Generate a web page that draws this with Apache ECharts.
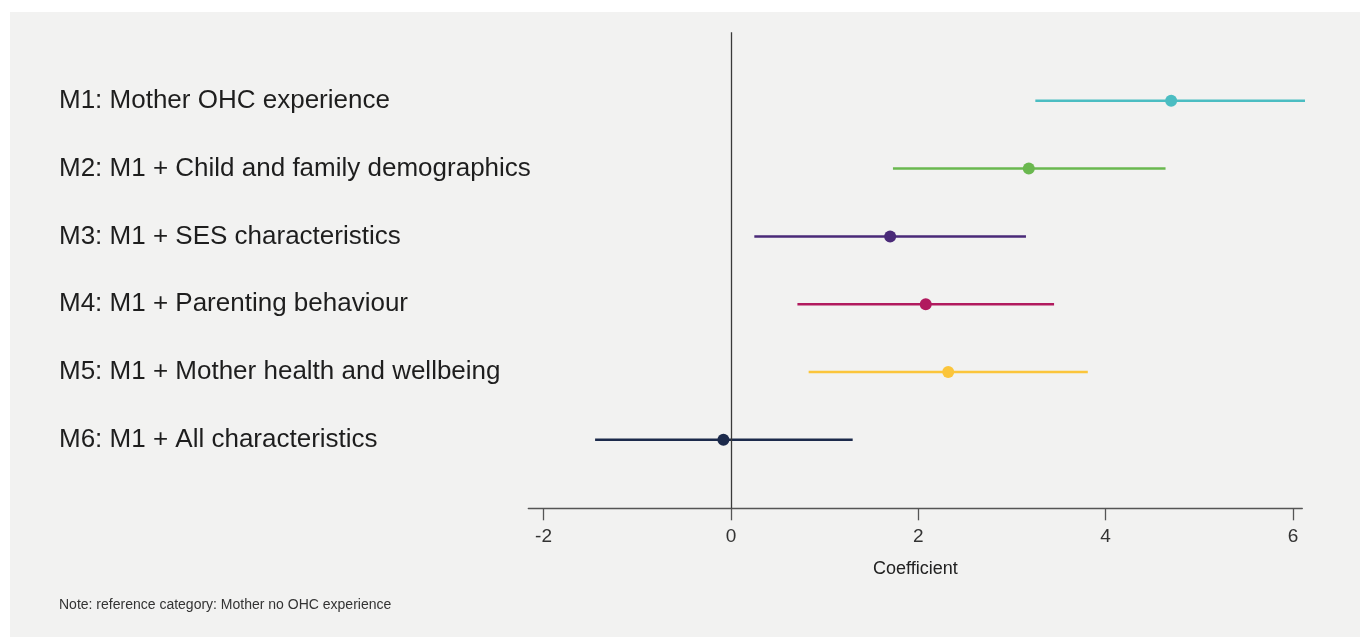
<!DOCTYPE html>
<html>
<head>
<meta charset="utf-8">
<script src="https://cdn.jsdelivr.net/npm/echarts@6/dist/echarts.min.js"></script>
<style>
  html, body { margin: 0; padding: 0; background: #ffffff; overflow: hidden; }
  #panel { position: absolute; left: 10px; top: 12px; width: 1350px; height: 625px; background: #f2f2f1; }
  #chart { position: absolute; left: 0; top: 0; width: 1360px; height: 637px; }
  #note { position: absolute; left: 59px; top: 596px; font: 14px "Liberation Sans", Arial, sans-serif; color: #333; }
</style>
</head>
<body>
<div id="panel"></div>
<div id="chart"></div>
<div id="note">Note: reference category: Mother no OHC experience</div>
<script>
// Model labels and coefficient estimates with confidence intervals
const models = [
  'M1: Mother OHC experience',
  'M2: M1 + Child and family demographics',
  'M3: M1 + SES characteristics',
  'M4: M1 + Parenting behaviour',
  'M5: M1 + Mother health and wellbeing',
  'M6: M1 + All characteristics'
];
const estimates = [4.70, 3.18, 1.70, 2.08, 2.32, -0.08];
const lower = [3.25, 1.73, 0.25, 0.71, 0.83, -1.45];
const upper = [6.16, 4.64, 3.15, 3.45, 3.81, 1.30];
const xTicks = [-2, 0, 2, 4, 6];
const colors = ['#4bbdc2', '#6ab84f', '#4a2a78', '#b11a5e', '#fbc53b', '#1c2a4b'];

const FONT = '"Liberation Sans", Arial, sans-serif';

const series = [];
models.forEach((name, i) => {
  const row = i + 1;
  series.push({
    name: name + ' CI',
    type: 'line',
    data: [[lower[i], row], [upper[i], row]],
    symbol: 'none',
    clip: false,
    silent: true,
    lineStyle: { color: colors[i], width: 2.5 },
    z: 3
  });
  series.push({
    name: name,
    type: 'scatter',
    data: [[estimates[i], row]],
    symbolSize: 12,
    clip: false,
    itemStyle: { color: colors[i], opacity: 1 },
    z: 4
  });
});

// Reference line at zero
series.push({
  type: 'line',
  data: [],
  markLine: {
    silent: true,
    symbol: 'none',
    label: { show: false },
    lineStyle: { color: '#3a3a3a', width: 1.3, type: 'solid' },
    data: [{ xAxis: 0 }]
  }
});

const chart = echarts.init(document.getElementById('chart'), null, { renderer: 'canvas' });
chart.setOption({
  backgroundColor: 'transparent',
  animation: false,
  grid: { left: 528.3, right: 57.7, top: 32.3, bottom: 128.7 },
  xAxis: {
    type: 'value',
    min: -2.163,
    max: 6.10,
    name: 'Coefficient',
    nameLocation: 'middle',
    nameGap: 52,
    nameTextStyle: { fontFamily: FONT, fontSize: 18, color: '#222' },
    axisLine: { show: true, onZero: false, lineStyle: { color: '#555', width: 1.3 } },
    axisTick: { show: true, length: 12, customValues: xTicks, lineStyle: { color: '#555', width: 1.3 } },
    axisLabel: { customValues: xTicks, margin: 19, fontFamily: FONT, fontSize: 19, color: '#333' },
    splitLine: { show: false }
  },
  yAxis: {
    type: 'value',
    min: -0.01,
    max: 7.01,
    inverse: true,
    axisLine: { show: false },
    axisTick: { show: false },
    splitLine: { show: false },
    axisLabel: {
      customValues: [1, 2, 3, 4, 5, 6],
      formatter: v => models[v - 1] || '',
      align: 'left',
      margin: 469.3,
      padding: [0, 0, 9, 0],
      fontFamily: FONT,
      fontSize: 26,
      color: '#1e1e1e'
    }
  },
  series: series
});
</script>
</body>
</html>
